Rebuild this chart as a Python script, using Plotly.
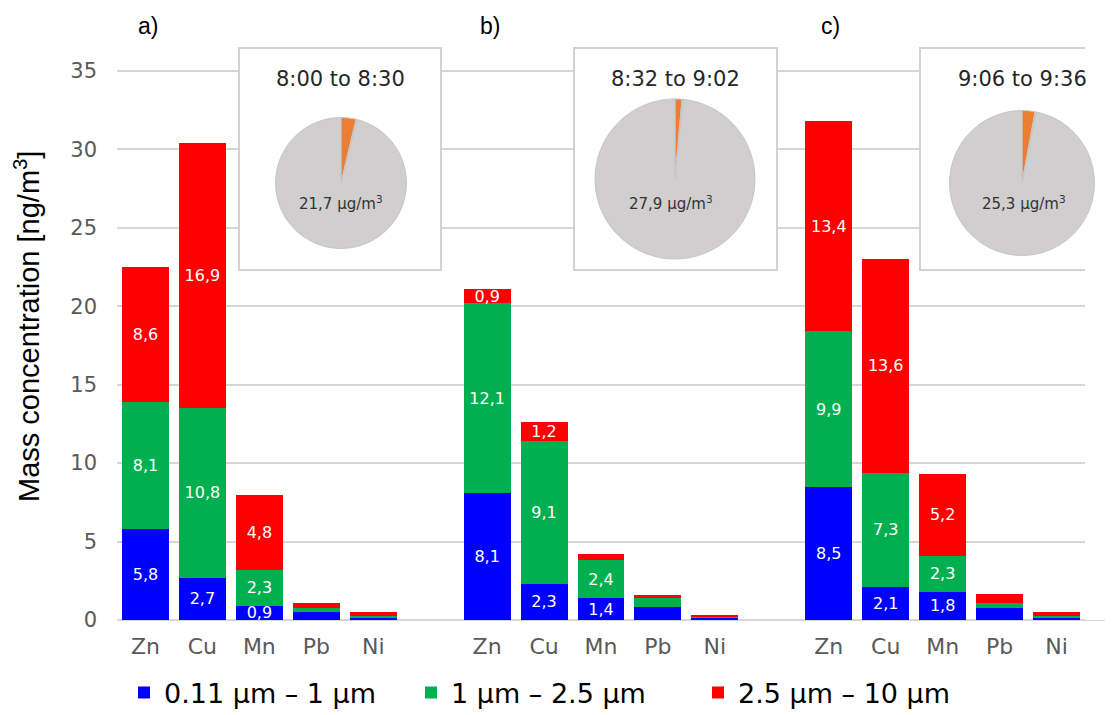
import plotly.graph_objects as go

# ---------------- data ----------------
elements = ["Zn", "Cu", "Mn", "Pb", "Ni"]
panels = ["a)", "b)", "c)"]
periods = ["8:00 to 8:30", "8:32 to 9:02", "9:06 to 9:36"]
pm_mass = ["21,7", "27,9", "25,3"]          # µg/m3 shown in the pies
size_bins = ["0.11 µm – 1 µm", "1 µm – 2.5 µm", "2.5 µm – 10 µm"]

# ng/m3, element order Zn, Cu, Mn, Pb, Ni
fine_a = [5.8, 2.7, 0.9, 0.53, 0.10]
mid_a = [8.1, 10.8, 2.3, 0.21, 0.13]
coarse_a = [8.6, 16.9, 4.8, 0.34, 0.28]

fine_b = [8.1, 2.3, 1.4, 0.80, 0.13]
mid_b = [12.1, 9.1, 2.4, 0.60, 0.08]
coarse_b = [0.9, 1.2, 0.4, 0.20, 0.08]

fine_c = [8.5, 2.1, 1.8, 0.75, 0.17]
mid_c = [9.9, 7.3, 2.3, 0.34, 0.11]
coarse_c = [13.4, 13.6, 5.2, 0.58, 0.26]

label_min = 0.85   # segments below this carry no value label

# pie shares (%)
pie_labels = ["share 1", "share 2", "rest"]
pie_orange = [3.7, 1.4, 2.9]
pie_blue = [0.3, 0.2, 0.3]
pie_rest = [96.0, 98.4, 96.8]

y_ticks = [0, 5, 10, 15, 20, 25, 30, 35]

# ---------------- styling ----------------
bar_colors = ["#0000FF", "#00B050", "#FF0000"]
pie_colors = ["#ED7D31", "#BDD7EE", "#D0CECE"]
grid_col = "#D6D6D6"
tick_col = "#595959"
WIDE = "DejaVu Sans"
ARIAL = "Liberation Sans, Arial, sans-serif"

series = [
    [fine_a, fine_b, fine_c],
    [mid_a, mid_b, mid_c],
    [coarse_a, coarse_b, coarse_c],
]

group_step = len(elements) + 1
xpos, xlab = [], []
for g in range(len(panels)):
    for i, el in enumerate(elements):
        xpos.append(g * group_step + i)
        xlab.append(el)


def fmt(v):
    return f"{v:.1f}".replace(".", ",")


fig = go.Figure()
for s, name in enumerate(size_bins):
    ys, txt = [], []
    for g in range(len(panels)):
        for i, el in enumerate(elements):
            v = series[s][g][i]
            ys.append(v)
            txt.append(fmt(v) if v >= label_min else "")
    fig.add_trace(go.Bar(
        x=xpos, y=ys, name=name, text=txt,
        textposition="inside", insidetextanchor="middle", textangle=0,
        constraintext="none",
        textfont=dict(family=WIDE, size=16, color="white"),
        marker=dict(color=bar_colors[s], line=dict(width=0)),
        hovertemplate="%{y}<extra>" + name + "</extra>",
    ))

# geometry in screen px (page has an 8 px body margin)
OFF = 8
W, H = 1113 - OFF, 715 - OFF
L, R_EDGE, T, B_EDGE = 117, 1113, 40, 620
PW, PH = R_EDGE - L, B_EDGE - T


def px(xp):
    return (xp - L) / PW


def py(yp):
    return (B_EDGE - yp) / PH


pie_geo = [(341, 183, 65.5), (675, 179, 80), (1022, 183, 72.5)]
title_pos = [(340, 79), (675, 79), (1022, 79)]
mass_pos = [(341, 203), (671, 203), (1024, 203)]
panel_pos = [(148, 26), (490, 26), (830, 26)]

for k in range(len(periods)):
    cx, cy, r = pie_geo[k]
    fig.add_trace(go.Pie(
        values=[pie_orange[k], pie_blue[k], pie_rest[k]],
        labels=pie_labels, sort=False, direction="clockwise", rotation=0,
        textinfo="none", showlegend=False,
        marker=dict(colors=pie_colors, line=dict(color="#C6C6C6", width=1)),
        domain=dict(x=[px(cx - r), px(cx + r)], y=[py(cy + r), py(cy - r)]),
    ))

annotations = []
for k in range(len(periods)):
    tx, ty = title_pos[k]
    annotations.append(dict(
        text=periods[k], x=px(tx), y=py(ty), xref="paper", yref="paper",
        showarrow=False, xanchor="center", yanchor="middle",
        font=dict(family=WIDE, size=21, color="#262626")))
    mx, my = mass_pos[k]
    annotations.append(dict(
        text=pm_mass[k] + " µg/m<sup>3</sup>", x=px(mx), y=py(my),
        xref="paper", yref="paper", showarrow=False,
        xanchor="center", yanchor="middle",
        font=dict(family=WIDE, size=15, color="#333333")))
    ax_, ay_ = panel_pos[k]
    annotations.append(dict(
        text=panels[k], x=px(ax_), y=py(ay_), xref="paper", yref="paper",
        showarrow=False, xanchor="center", yanchor="middle",
        font=dict(family=ARIAL, size=23, color="black")))

annotations.append(dict(
    text="Mass concentration [ng/m<sup>3</sup>]", textangle=-90,
    x=px(27), y=py(327), xref="paper", yref="paper", showarrow=False,
    xanchor="center", yanchor="middle",
    font=dict(family=ARIAL, size=29, color="black")))

# inset frames (data coords, drawn between grid and traces)
cat_px = (1085 - L) / 17.0
x0_px = L + cat_px / 2
y_scale = (B_EDGE - 71) / 35.0


def dx(xp):
    return (xp - x0_px) / cat_px


def dy(yp):
    return (B_EDGE - yp) / y_scale


frames = [(239, 441), (574, 777), (920, 1123)]
shapes = []
for (a, b) in frames:
    shapes.append(dict(type="rect", xref="x", yref="y", layer="between",
                       x0=dx(a), x1=dx(b), y0=dy(270), y1=dy(48),
                       fillcolor="white", line=dict(color="#D3D3D3", width=2)))
# hide grid beyond the last category
shapes.append(dict(type="rect", xref="x", yref="y", layer="between",
                   x0=16.5, x1=dx(1130), y0=-2, y1=dy(30),
                   fillcolor="white", line=dict(width=0)))

fig.update_layout(
    width=W, height=H,
    margin=dict(l=L - OFF, r=(OFF + W) - R_EDGE, t=T - OFF,
                b=(OFF + H) - B_EDGE, autoexpand=False),
    paper_bgcolor="white", plot_bgcolor="white",
    barmode="stack", bargap=0.175,
    annotations=annotations, shapes=shapes,
    legend=dict(orientation="h", x=px(124), xanchor="left",
                y=py(693), yanchor="middle",
                font=dict(family=WIDE, size=27, color="black"),
                entrywidth=242, entrywidthmode="pixels",
                traceorder="normal", bgcolor="rgba(0,0,0,0)"),
    xaxis=dict(range=[-0.5, dx(R_EDGE)], tickmode="array", tickvals=xpos,
               ticktext=xlab, showgrid=False, zeroline=False, showline=False,
               ticks="", ticklabelstandoff=11,
               tickfont=dict(family=WIDE, size=22, color=tick_col)),
    yaxis=dict(range=[0, dy(T)], tickmode="array", tickvals=y_ticks,
               showgrid=True, gridcolor=grid_col, gridwidth=1.5,
               zeroline=True, zerolinecolor=grid_col, zerolinewidth=1.5,
               showline=False, ticks="", ticklabelstandoff=19,
               tickfont=dict(family=WIDE, size=21, color=tick_col)),
)

fig.write_html("out.html")
